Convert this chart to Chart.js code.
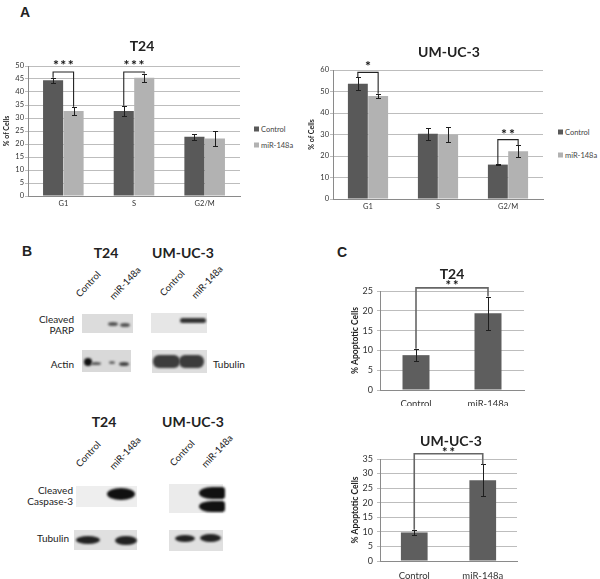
<!DOCTYPE html>
<html>
<head>
<meta charset="utf-8">
<script src="https://cdn.jsdelivr.net/npm/chart.js@4.4.0/dist/chart.umd.min.js"></script>
<style>
    body { margin: 0; width: 600px; height: 579px; position: relative; overflow: hidden; background: #fff; font-family: Lato, 'Liberation Sans', sans-serif; color: #222; }
    canvas { position: absolute; }
    .c { position: absolute; transform: translate(-50%, -50%); white-space: nowrap; }
    .r { position: absolute; transform: translate(-100%, -50%); white-space: nowrap; text-align: right; }
    .l { position: absolute; transform: translate(0, -50%); white-space: nowrap; }
    .letter { font-weight: bold; font-size: 14px; font-family: 'Liberation Sans', Arial, sans-serif; }
    .title { font-weight: bold; font-size: 14px; }
    .lane { position: absolute; font-size: 9.5px; white-space: nowrap; transform: translate(-50%, -50%) rotate(-47deg); }
    .blabel { font-size: 10px; line-height: 11px; }
    .legend { font-size: 7.5px; color: #444; }
    .legend i { display: inline-block; width: 5px; height: 5px; margin-right: 2px; vertical-align: 0; }
    .box { position: absolute; background: #e3e3e3; }
    .band { position: absolute; border-radius: 50%; filter: blur(0.8px); }
</style>
</head>
<body>
<canvas id="t24Cycle" width="250" height="160" style="left:0px;top:50px"></canvas>
<canvas id="umCycle" width="248" height="163" style="left:305px;top:50px"></canvas>
<canvas id="t24Apoptosis" width="186" height="130" style="left:348px;top:276px"></canvas>
<canvas id="umApoptosis" width="179" height="139" style="left:348px;top:440px"></canvas>

<!-- panel A -->
<div class="c letter" style="left:25px;top:12px">A</div>
<div class="c title" style="left:142px;top:45px">T24</div>
<div class="c title" style="left:449px;top:51px">UM-UC-3</div>
<div class="l legend" style="left:254px;top:129px"><i style="background:#595959"></i>Control</div>
<div class="l legend" style="left:254px;top:145px"><i style="background:#b2b2b2"></i>miR-148a</div>
<div class="l legend" style="left:558px;top:132px"><i style="background:#595959"></i>Control</div>
<div class="l legend" style="left:558px;top:155px"><i style="background:#b2b2b2"></i>miR-148a</div>

<!-- panel B -->
<div class="c letter" style="left:27px;top:251px">B</div>
<div class="c title" style="left:106px;top:252px">T24</div>
<div class="c title" style="left:183px;top:252px">UM-UC-3</div>
<div class="lane" style="left:88px;top:284px">Control</div>
<div class="lane" style="left:125px;top:283px">miR-148a</div>
<div class="lane" style="left:172px;top:283px">Control</div>
<div class="lane" style="left:207px;top:282px">miR-148a</div>

<div class="r blabel" style="left:74px;top:325px">Cleaved<br>PARP</div>
<div class="r blabel" style="left:74px;top:364px">Actin</div>
<div class="l blabel" style="left:213px;top:364px">Tubulin</div>

<div class="box" style="left:82px;top:314px;width:51px;height:19px;background:#dcdcdc"></div>
<div class="band" style="left:108px;top:322px;width:10px;height:4px;background:#555"></div>
<div class="band" style="left:120px;top:323px;width:10px;height:4px;background:#555"></div>
<div class="box" style="left:151px;top:313px;width:56px;height:20px;background:#e6e6e6"></div>
<div class="band" style="left:180px;top:318px;width:26px;height:5px;background:#333;border-radius:3px"></div>

<div class="box" style="left:82px;top:350px;width:49px;height:22px;background:#d9d9d9"></div>
<div class="band" style="left:84px;top:358px;width:8px;height:8px;background:#111"></div>
<div class="band" style="left:91px;top:362px;width:10px;height:3px;background:#555"></div>
<div class="band" style="left:109px;top:361px;width:6px;height:3px;background:#666"></div>
<div class="band" style="left:119px;top:362px;width:10px;height:4px;background:#444"></div>
<div class="box" style="left:152px;top:350px;width:55px;height:23px;background:#dedede"></div>
<div class="band" style="left:153px;top:355px;width:27px;height:13px;background:#3c3c3c;border-radius:6px"></div>
<div class="band" style="left:179px;top:355px;width:25px;height:13px;background:#3c3c3c;border-radius:6px"></div>

<div class="c title" style="left:104px;top:421px">T24</div>
<div class="c title" style="left:193px;top:421px">UM-UC-3</div>
<div class="lane" style="left:88px;top:454px">Control</div>
<div class="lane" style="left:125px;top:453px">miR-148a</div>
<div class="lane" style="left:182px;top:453px">Control</div>
<div class="lane" style="left:217px;top:451px">miR-148a</div>

<div class="r blabel" style="left:73px;top:496px">Cleaved<br>Caspase-3</div>
<div class="r blabel" style="left:69px;top:538px">Tubulin</div>

<div class="box" style="left:76px;top:486px;width:61px;height:21px;background:#eeeeee"></div>
<div class="band" style="left:107px;top:488px;width:28px;height:12px;background:#111"></div>
<div class="box" style="left:169px;top:484px;width:54px;height:29px;background:#ebebeb"></div>
<div class="band" style="left:199px;top:487px;width:26px;height:12px;background:#111;border-radius:50% 3px 3px 50%"></div>
<div class="band" style="left:199px;top:501px;width:26px;height:11px;background:#111;border-radius:50% 3px 3px 50%"></div>

<div class="box" style="left:74px;top:530px;width:63px;height:20px;background:#e0e0e0"></div>
<div class="band" style="left:76px;top:536px;width:24px;height:8px;background:#222"></div>
<div class="band" style="left:115px;top:536px;width:22px;height:9px;background:#222"></div>
<div class="box" style="left:169px;top:530px;width:54px;height:21px;background:#e0e0e0"></div>
<div class="band" style="left:175px;top:535px;width:20px;height:7px;background:#222"></div>
<div class="band" style="left:200px;top:534px;width:21px;height:8px;background:#222"></div>

<!-- panel C -->
<div class="c letter" style="left:342px;top:252px">C</div>
<div class="c title" style="left:452px;top:273px">T24</div>
<div class="c title" style="left:451px;top:440px">UM-UC-3</div>

<script>
// Cell cycle distribution (% of cells)
const cyclePhases = ['G1', 'S', 'G2/M'];
const t24Control = [44.5, 32.7, 22.8];
const t24ControlErr = [1.0, 2.0, 1.2];
const t24Mir = [32.7, 45.5, 22.1];
const t24MirErr = [1.6, 1.6, 3.0];
const umControl = [53.6, 30.4, 16.0];
const umControlErr = [3.1, 2.8, 0.3];
const umMir = [47.9, 29.9, 22.2];
const umMirErr = [1.0, 3.4, 2.7];

// Apoptosis (% apoptotic cells)
const apoGroups = ['Control', 'miR-148a'];
const t24Apo = [8.8, 19.4];
const t24ApoErr = [1.6, 4.2];
const umApo = [9.8, 27.7];
const umApoErr = [0.9, 5.5];

// significance brackets: [dataset, index] ends, bracket level, stars
const t24CycleSig = [
    { from: [0, 0], to: [1, 0], level: 47.7, text: '***' },
    { from: [0, 1], to: [1, 1], level: 47.7, text: '***' }
];
const umCycleSig = [
    { from: [0, 0], to: [1, 0], level: 58.9, text: '*' },
    { from: [0, 2], to: [1, 2], level: 27.6, text: '**' }
];
const t24ApoSig = [{ from: [0, 0], to: [0, 1], level: 25.8, text: '**' }];
const umApoSig = [{ from: [0, 0], to: [0, 1], level: 36.8, text: '**' }];

Chart.defaults.font.family = "Lato, 'Liberation Sans', sans-serif";
Chart.defaults.color = '#333';
Chart.defaults.animation = false;

// Draws error bars and the significance brackets
const errorBarPlugin = {
    id: 'errorBars',
    afterDatasetsDraw(chart, args, opts) {
        const ctx = chart.ctx;
        const yScale = chart.scales.y;
        const topOf = (d, i) => {
            const ds = chart.data.datasets[d];
            return ds.data[i] + ds.errors[i];
        };
        ctx.save();
        ctx.strokeStyle = '#1e1e1e';
        ctx.lineWidth = 1;
        chart.data.datasets.forEach((ds, d) => {
            chart.getDatasetMeta(d).data.forEach((bar, i) => {
                const top = Math.round(yScale.getPixelForValue(ds.data[i] + ds.errors[i])) + 0.5;
                const bot = Math.round(yScale.getPixelForValue(ds.data[i] - ds.errors[i])) + 0.5;
                const x = Math.round(bar.x) + 0.5;
                ctx.beginPath();
                ctx.moveTo(x, top); ctx.lineTo(x, bot);
                ctx.moveTo(x - 2.5, top); ctx.lineTo(x + 2.5, top);
                ctx.moveTo(x - 2.5, bot); ctx.lineTo(x + 2.5, bot);
                ctx.stroke();
            });
        });
        (opts.brackets || []).forEach(b => {
            const x0 = chart.getDatasetMeta(b.from[0]).data[b.from[1]].x;
            const x1 = chart.getDatasetMeta(b.to[0]).data[b.to[1]].x;
            const y0 = yScale.getPixelForValue(topOf(b.from[0], b.from[1]));
            const y1 = yScale.getPixelForValue(topOf(b.to[0], b.to[1]));
            const yl = yScale.getPixelForValue(b.level);
            ctx.strokeStyle = opts.bracketColor;
            ctx.lineWidth = opts.bracketWidth;
            ctx.beginPath();
            ctx.moveTo(x0, y0); ctx.lineTo(x0, yl); ctx.lineTo(x1, yl); ctx.lineTo(x1, y1);
            ctx.stroke();
            ctx.fillStyle = '#111';
            ctx.font = 'bold ' + opts.starSize + "px Lato, 'Liberation Sans', sans-serif";
            ctx.letterSpacing = opts.starSpacing + 'px';
            ctx.textAlign = 'center';
            ctx.textBaseline = 'alphabetic';
            ctx.fillText(b.text, (x0 + x1) / 2 + opts.starSpacing / 2, yl - opts.starGap + 0.56 * opts.starSize);
            ctx.letterSpacing = '0px';
        });
        ctx.restore();
    }
};

function makeChart(id, labels, datasets, cfg) {
    return new Chart(document.getElementById(id), {
        type: 'bar',
        data: { labels: labels, datasets: datasets },
        plugins: [errorBarPlugin],
        options: {
            responsive: false,
            layout: { padding: { top: cfg.padTop, right: 10, left: 0, bottom: 0 } },
            datasets: { bar: { categoryPercentage: cfg.catPct, barPercentage: cfg.barPct } },
            plugins: {
                legend: { display: false },
                tooltip: { enabled: false },
                errorBars: {
                    brackets: cfg.brackets,
                    bracketColor: cfg.bracketColor,
                    bracketWidth: cfg.bracketWidth,
                    starSize: cfg.starSize,
                    starGap: cfg.starGap,
                    starSpacing: cfg.starSpacing
                }
            },
            scales: {
                x: {
                    afterFit: s => { s.height = cfg.xHeight; },
                    grid: { display: false, drawTicks: false },
                    border: { display: true, color: '#8a8a8a' },
                    ticks: { font: { size: cfg.xFont }, padding: cfg.xPad, color: '#333' }
                },
                y: {
                    min: 0,
                    max: cfg.yMax,
                    afterFit: s => { s.width = cfg.yWidth; },
                    grid: { color: '#bdbdbd', tickLength: 3 },
                    border: { display: true, color: '#8a8a8a' },
                    ticks: { stepSize: cfg.yStep, font: { size: cfg.yFont }, padding: cfg.yPad, color: '#333' },
                    title: {
                        display: true,
                        text: cfg.yTitle,
                        font: { size: cfg.yTitleSize, weight: 'bold' },
                        padding: { top: cfg.yTitlePad, bottom: 0 },
                        color: '#222'
                    }
                }
            }
        }
    });
}

makeChart('t24Cycle', cyclePhases, [
    { label: 'Control', data: t24Control, errors: t24ControlErr, backgroundColor: '#595959' },
    { label: 'miR-148a', data: t24Mir, errors: t24MirErr, backgroundColor: '#b2b2b2' }
], {
    padTop: 16, xHeight: 14, yWidth: 28, yMax: 50, yStep: 5, catPct: 0.58, barPct: 0.98,
    xFont: 7.5, xPad: 3, yFont: 7.5, yPad: 1, yTitle: '% of Cells', yTitleSize: 7, yTitlePad: 3,
    brackets: t24CycleSig, bracketColor: '#222', bracketWidth: 1.1, starSize: 14, starGap: 10, starSpacing: 1.5
});

makeChart('umCycle', cyclePhases, [
    { label: 'Control', data: umControl, errors: umControlErr, backgroundColor: '#595959' },
    { label: 'miR-148a', data: umMir, errors: umMirErr, backgroundColor: '#b2b2b2' }
], {
    padTop: 20, xHeight: 14, yWidth: 28, yMax: 60, yStep: 10, catPct: 0.58, barPct: 0.98,
    xFont: 7.5, xPad: 3, yFont: 7.5, yPad: 1, yTitle: '% of Cells', yTitleSize: 7, yTitlePad: 3,
    brackets: umCycleSig, bracketColor: '#222', bracketWidth: 1.1, starSize: 14, starGap: 9, starSpacing: 2
});

makeChart('t24Apoptosis', apoGroups, [
    { label: 'T24', data: t24Apo, errors: t24ApoErr, backgroundColor: '#5e5e5e' }
], {
    padTop: 15, xHeight: 16, yWidth: 32, yMax: 25, yStep: 5, catPct: 0.375, barPct: 1,
    xFont: 9.5, xPad: 8, yFont: 9, yPad: 4, yTitle: '% Apoptotic Cells', yTitleSize: 8.5, yTitlePad: 2,
    brackets: t24ApoSig, bracketColor: '#666', bracketWidth: 1.6, starSize: 13, starGap: 5, starSpacing: 2
});

makeChart('umApoptosis', apoGroups, [
    { label: 'UM-UC-3', data: umApo, errors: umApoErr, backgroundColor: '#5e5e5e' }
], {
    padTop: 19, xHeight: 18, yWidth: 32, yMax: 35, yStep: 5, catPct: 0.39, barPct: 1,
    xFont: 9.5, xPad: 9, yFont: 9, yPad: 4, yTitle: '% Apoptotic Cells', yTitleSize: 8.5, yTitlePad: 2,
    brackets: umApoSig, bracketColor: '#666', bracketWidth: 1.6, starSize: 13, starGap: 4, starSpacing: 2
});
</script>
</body>
</html>
